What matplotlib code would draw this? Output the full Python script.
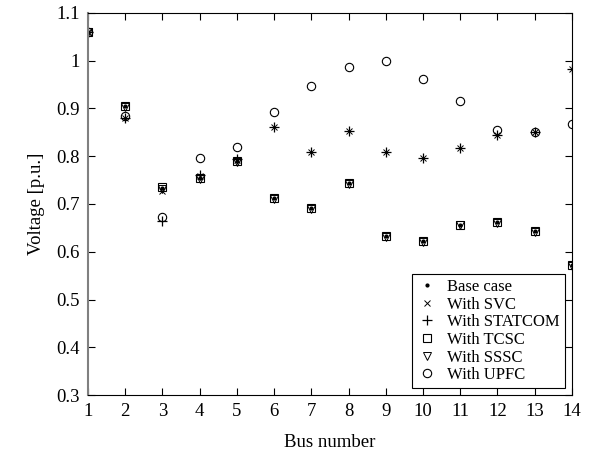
import matplotlib
matplotlib.use("Agg")
import matplotlib.pyplot as plt
import numpy as np

plt.rcParams['font.family'] = ['Liberation Serif', 'DejaVu Serif']

bus = np.arange(1, 15)
base_case = [1.06, 0.905, 0.733, 0.755, 0.790, 0.713, 0.692, 0.743, 0.632, 0.622, 0.657, 0.663, 0.643, 0.573]
with_svc = [1.06, 0.880, 0.727, 0.758, 0.793, 0.862, 0.808, 0.852, 0.808, 0.796, 0.818, 0.845, 0.850, 0.982]
with_statcom = [1.06, 0.880, 0.665, 0.760, 0.795, 0.862, 0.808, 0.852, 0.808, 0.796, 0.818, 0.845, 0.850, 0.982]
with_tcsc = [1.06, 0.905, 0.735, 0.755, 0.790, 0.713, 0.692, 0.743, 0.632, 0.622, 0.657, 0.663, 0.643, 0.573]
with_sssc = [1.06, 0.903, 0.732, 0.753, 0.788, 0.711, 0.690, 0.741, 0.630, 0.620, 0.655, 0.661, 0.641, 0.571]
with_upfc = [1.06, 0.885, 0.672, 0.797, 0.820, 0.893, 0.947, 0.986, 1.000, 0.961, 0.916, 0.855, 0.851, 0.868]

fig = plt.figure(figsize=(5.95, 4.61), dpi=100)
ax = fig.add_axes([0.148, 0.143, 0.813, 0.829])

ax.plot(bus, base_case, ls='none', marker='.', ms=4, color='k', label='Base case')
ax.plot(bus, with_svc, ls='none', marker='x', ms=4, mew=0.7, color='k', label='With SVC')
ax.plot(bus, with_statcom, ls='none', marker='+', ms=7, mew=0.9, color='k', label='With STATCOM')
ax.plot(bus, with_tcsc, ls='none', marker='s', ms=6, mew=0.8, mfc='none', mec='k', label='With TCSC')
ax.plot(bus, with_sssc, ls='none', marker='v', ms=6, mew=0.7, mfc='none', mec='k', label='With SSSC')
ax.plot(bus, with_upfc, ls='none', marker='o', ms=6, mew=0.8, mfc='none', mec='k', label='With UPFC')

ax.set_xlim(1, 14)
ax.set_ylim(0.3, 1.1)
ax.set_xticks(bus)
ax.set_yticks(np.arange(0.3, 1.11, 0.1))
ax.set_yticklabels(['0.3', '0.4', '0.5', '0.6', '0.7', '0.8', '0.9', '1', '1.1'])
ax.tick_params(direction='in', top=True, right=True, labelsize=13.5, length=5, pad=6)
ax.spines['left'].set_color('gray')
ax.spines['left'].set_linewidth(1.5)

ax.set_xlabel('Bus number', fontsize=13.5, labelpad=10)
ax.set_ylabel('Voltage [p.u.]', fontsize=13.5, labelpad=8)

leg = ax.legend(loc='lower right', bbox_to_anchor=(0.985, 0.018), fontsize=12,
                frameon=True, fancybox=False, edgecolor='k', framealpha=1,
                handlelength=1.2, handletextpad=0.6, labelspacing=0.1,
                borderpad=0.3, borderaxespad=0)
leg.get_frame().set_linewidth(0.8)

fig.savefig('out.png', dpi=100)
